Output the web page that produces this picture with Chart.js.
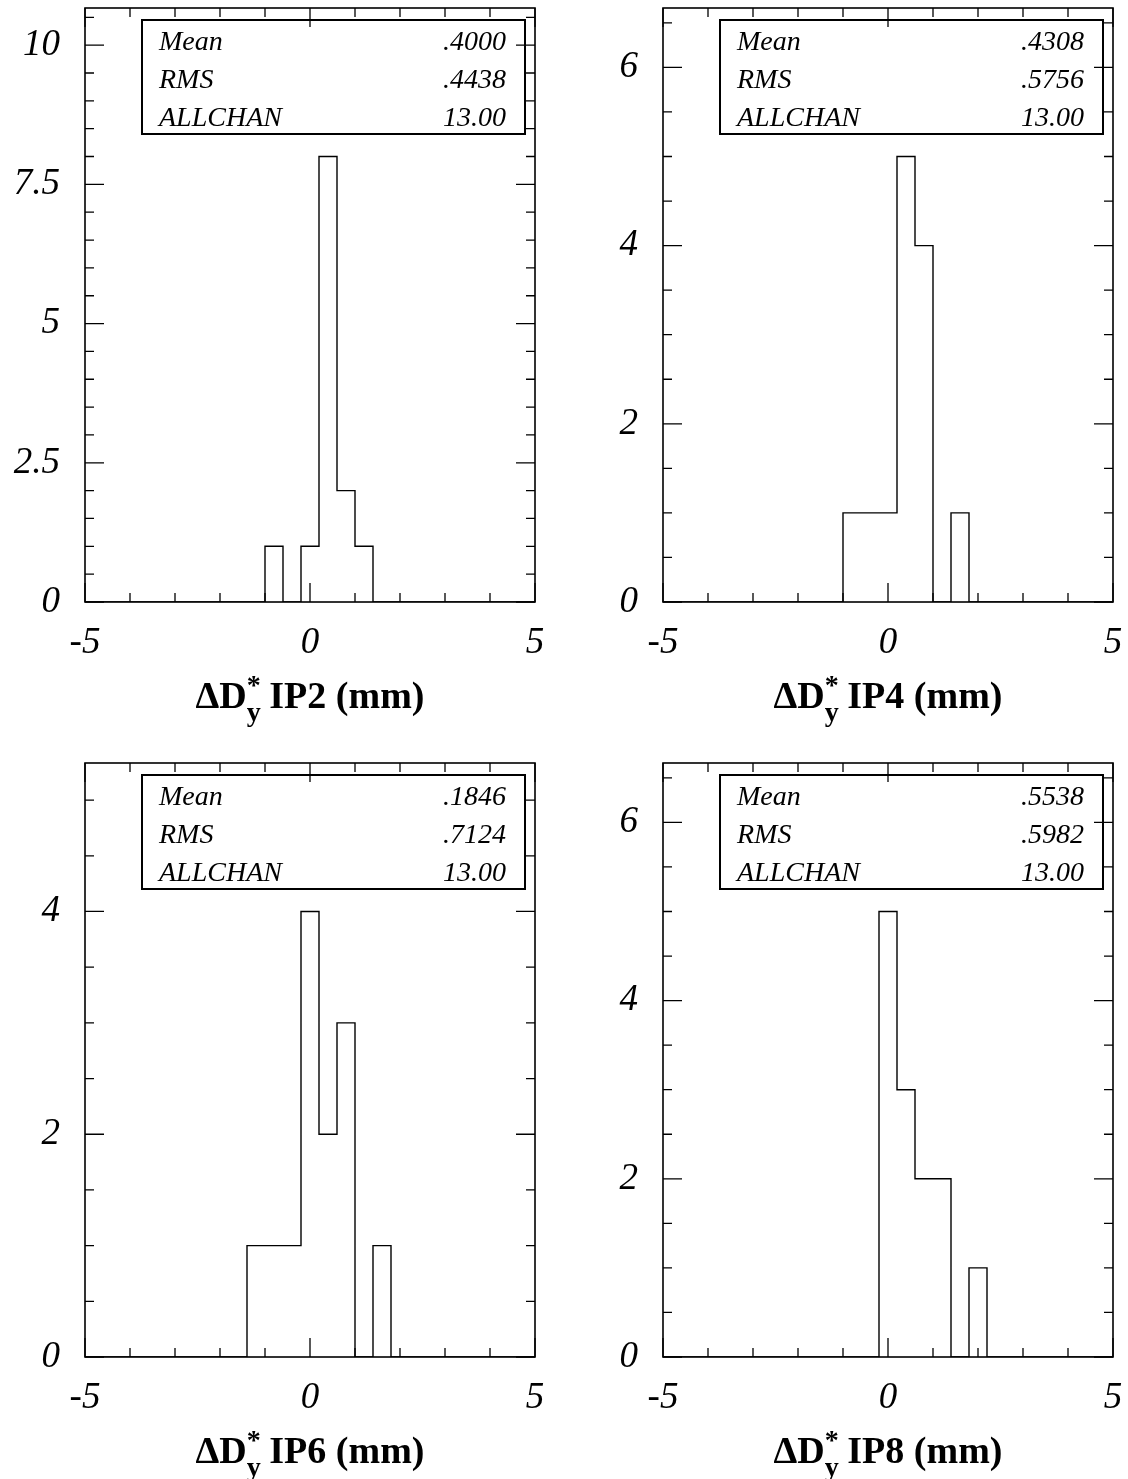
<!DOCTYPE html>
<html>
<head>
<meta charset="utf-8">
<title>ΔD*y histograms IP2 IP4 IP6 IP8</title>
<script src="https://cdn.jsdelivr.net/npm/chart.js@4.4.1/dist/chart.umd.min.js"></script>
<style>
  html, body { margin:0; padding:0; background:#fff; }
  body { width:1128px; height:1479px; overflow:hidden; position:relative; font-family:"Liberation Serif","Times New Roman",serif; color:#000; }
  .panel { position:absolute; width:550px; height:740px; }
  .panel canvas { position:absolute; left:0; top:0; }
  .stats { position:absolute; left:141px; top:19px; width:385px; height:116px; box-sizing:border-box;
           border:2px solid #000; padding:1px 18px 0 16px; font-style:italic; font-size:28px; line-height:38px; }
  .stats .row { display:flex; justify-content:space-between; }
  .xtitle { position:absolute; left:85px; width:450px; top:676px; text-align:center; font-weight:bold;
            font-size:38px; line-height:38px; white-space:nowrap; }
  .ss { position:relative; display:inline-block; width:13px; height:0; font-size:28px; line-height:28px; }
  .ss span { position:absolute; left:0; }
  .ss .st { top:-37px; }
  .ss .sb { top:-10px; }
</style>
</head>
<body>
<script>
// bin edges shared by all four histograms (25 bins, -5 .. 5 mm)
const BIN_EDGES = [-5, -4.6, -4.2, -3.8, -3.4, -3, -2.6, -2.2, -1.8, -1.4, -1, -0.6, -0.2,
                   0.2, 0.6, 1, 1.4, 1.8, 2.2, 2.6, 3, 3.4, 3.8, 4.2, 4.6, 5];

// entries per bin
const IP2_COUNTS = [0,0,0,0,0,0,0,0,0,0, 1,0,1,8,2,1,0,0, 0,0,0,0,0,0,0];
const IP4_COUNTS = [0,0,0,0,0,0,0,0,0,0, 1,1,1,5,4,0,1,0, 0,0,0,0,0,0,0];
const IP6_COUNTS = [0,0,0,0,0,0,0,0,0,1, 1,1,4,2,3,0,1,0, 0,0,0,0,0,0,0];
const IP8_COUNTS = [0,0,0,0,0,0,0,0,0,0, 0,0,5,3,2,2,0,1, 0,0,0,0,0,0,0];

// axis tick labels / ranges
const X_TICKS = [-5, 0, 5];
const IP2_Y_TICKS = [0, 2.5, 5, 7.5, 10];
const IP4_Y_TICKS = [0, 2, 4, 6];
const IP6_Y_TICKS = [0, 2, 4];
const IP8_Y_TICKS = [0, 2, 4, 6];
const IP2_Y_MAX = 10.667;
const IP4_Y_MAX = 6.667;
const IP6_Y_MAX = 5.333;
const IP8_Y_MAX = 6.667;

// statistics box
const STAT_NAMES = ["Mean", "RMS", "ALLCHAN"];
const IP2_STATS = [".4000", ".4438", "13.00"];
const IP4_STATS = [".4308", ".5756", "13.00"];
const IP6_STATS = [".1846", ".7124", "13.00"];
const IP8_STATS = [".5538", ".5982", "13.00"];

const X_MINOR_STEP = 1;
const Y_MINOR_STEP = 0.5;

const CANVAS_W = 550, CANVAS_H = 740;
const AREA_LEFT = 85, AREA_TOP = 8, AREA_BOTTOM = 602;

const tickFont = { family: "'Liberation Serif', 'Times New Roman', serif", size: 37, style: "italic", lineHeight: 1 };

// PAW-like frame: box round the plot area, ticks pointing inward on all four sides
const pawFrame = {
  id: "pawFrame",
  afterDatasetsDraw(chart){
    const { ctx, chartArea: a, scales: { x, y } } = chart;
    const isMajor = (list, v) => list.some(m => Math.abs(m - v) < 1e-6);
    const xMajor = x.ticks.map(t => t.value);
    const yMajor = y.ticks.map(t => t.value);
    ctx.save();
    ctx.strokeStyle = "#000";
    ctx.lineWidth = 1.3;
    ctx.beginPath();
    for(let v = x.min; v <= x.max + 1e-6; v += X_MINOR_STEP){
      const px = x.getPixelForValue(v);
      const len = isMajor(xMajor, v) ? 19 : 9;
      ctx.moveTo(px, a.bottom); ctx.lineTo(px, a.bottom - len);
      ctx.moveTo(px, a.top); ctx.lineTo(px, a.top + len);
    }
    for(let v = y.min; v <= y.max + 1e-6; v += Y_MINOR_STEP){
      const py = y.getPixelForValue(v);
      const len = isMajor(yMajor, v) ? 19 : 9;
      ctx.moveTo(a.left, py); ctx.lineTo(a.left + len, py);
      ctx.moveTo(a.right, py); ctx.lineTo(a.right - len, py);
    }
    ctx.stroke();
    ctx.lineWidth = 1.6;
    ctx.strokeRect(a.left, a.top, a.right - a.left, a.bottom - a.top);
    ctx.restore();
  }
};

function noPad(s){
  s.paddingTop = 0; s.paddingBottom = 0; s.paddingLeft = 0; s.paddingRight = 0;
}

function makeChart(canvas, counts, yTicks, yMax){
  // one point per bin's left edge, the last one closing at x = 5
  const points = BIN_EDGES.map((e, i) => ({ x: e, y: counts[Math.min(i, counts.length - 1)] }));
  return new Chart(canvas, {
    type: "line",
    data: { datasets: [{
      data: points, stepped: "before", borderColor: "#000", borderWidth: 1.4,
      pointRadius: 0, fill: false
    }]},
    options: {
      responsive: false, animation: false, devicePixelRatio: 1,
      layout: { padding: { top: AREA_TOP, right: CANVAS_W - 535, left: 0, bottom: 0 } },
      plugins: { legend: { display: false }, tooltip: { enabled: false } },
      scales: {
        x: {
          type: "linear", min: -5, max: 5,
          grid: { display: false, drawTicks: false }, border: { display: false },
          afterBuildTicks: s => { s.ticks = X_TICKS.map(v => ({ value: v })); },
          afterFit: s => { s.height = CANVAS_H - AREA_BOTTOM; noPad(s); },
          ticks: { padding: 23, font: tickFont, color: "#000", maxRotation: 0, autoSkip: false,
                   callback: v => String(v) }
        },
        y: {
          type: "linear", min: 0, max: yMax,
          grid: { display: false, drawTicks: false }, border: { display: false },
          afterBuildTicks: s => { s.ticks = yTicks.map(v => ({ value: v })); },
          afterFit: s => { s.width = AREA_LEFT; noPad(s); },
          ticks: { padding: 25, font: tickFont, color: "#000", autoSkip: false,
                   callback: v => String(v) }
        }
      }
    },
    plugins: [pawFrame]
  });
}

function makePanel(left, top, name, counts, yTicks, yMax, stats){
  const panel = document.createElement("div");
  panel.className = "panel";
  panel.style.left = left + "px";
  panel.style.top = top + "px";

  const canvas = document.createElement("canvas");
  canvas.width = CANVAS_W; canvas.height = CANVAS_H;
  panel.appendChild(canvas);

  const box = document.createElement("div");
  box.className = "stats";
  box.innerHTML = STAT_NAMES.map((n, i) =>
    `<div class="row"><span>${n}</span><span>${stats[i]}</span></div>`).join("");
  panel.appendChild(box);

  const title = document.createElement("div");
  title.className = "xtitle";
  title.innerHTML = `&Delta;D<span class="ss"><span class="st">*</span><span class="sb">y</span></span> ${name} (mm)`;
  panel.appendChild(title);

  document.body.appendChild(panel);
  makeChart(canvas, counts, yTicks, yMax);
}

makePanel(0,   0,   "IP2", IP2_COUNTS, IP2_Y_TICKS, IP2_Y_MAX, IP2_STATS);
makePanel(578, 0,   "IP4", IP4_COUNTS, IP4_Y_TICKS, IP4_Y_MAX, IP4_STATS);
makePanel(0,   755, "IP6", IP6_COUNTS, IP6_Y_TICKS, IP6_Y_MAX, IP6_STATS);
makePanel(578, 755, "IP8", IP8_COUNTS, IP8_Y_TICKS, IP8_Y_MAX, IP8_STATS);
</script>
</body>
</html>
